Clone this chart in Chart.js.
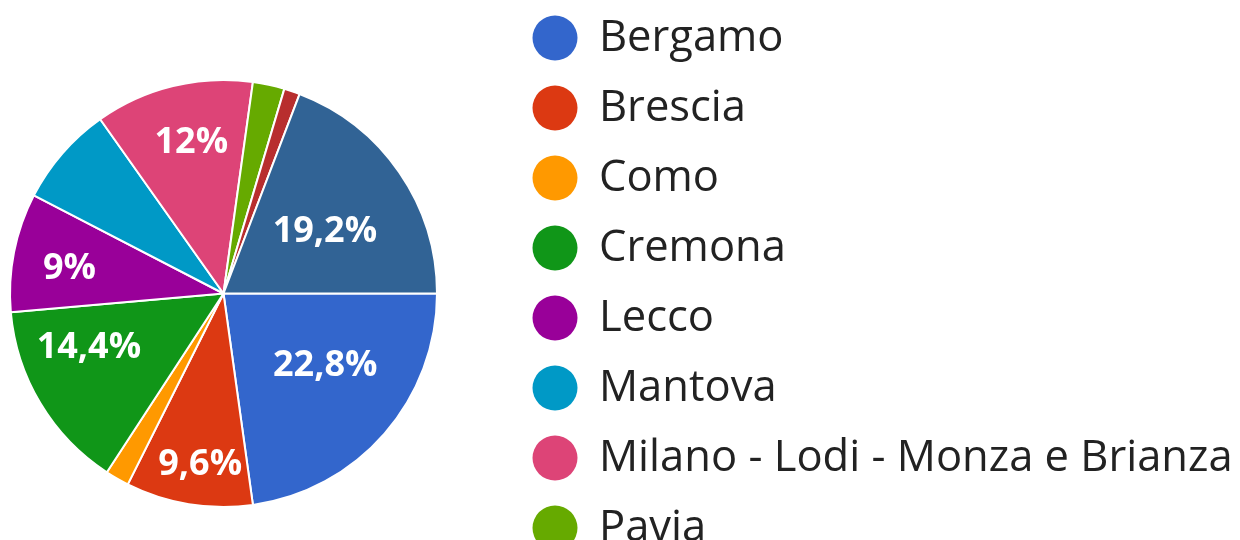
<!DOCTYPE html>
<html>
<head>
<meta charset="utf-8">
<script src="https://cdn.jsdelivr.net/npm/chart.js@4.4.0/dist/chart.umd.min.js"></script>
<style>
  html, body { margin: 0; padding: 0; background: #fff; overflow: hidden; }
  #pie { display: block; }
</style>
</head>
<body>
<canvas id="pie" width="1240" height="540"></canvas>
<script>
const provinces = ['Bergamo', 'Brescia', 'Como', 'Cremona', 'Lecco', 'Mantova',
  'Milano - Lodi - Monza e Brianza', 'Pavia', 'Sondrio', 'Varese'];
const shares = [22.8, 9.6, 1.8, 14.4, 9, 7.6, 12, 2.4, 1.2, 19.2];
const colors = ['#3366cc', '#dc3912', '#ff9900', '#109618', '#990099', '#0099c6',
  '#dd4477', '#66aa00', '#b82e2e', '#316395'];

// where each slice label sits: fraction of radius and small angle nudge (deg)
const labelPlace = {
  0: [0.585, -5.6], 1: [0.81, -1.6], 3: [0.68, 9], 4: [0.73, -2.2],
  6: [0.72, 1.6], 9: [0.555, 3.4]
};

const fmt = v => String(v).replace('.', ',') + '%';

const sliceLabels = {
  id: 'sliceLabels',
  afterDatasetsDraw(chart) {
    const ctx = chart.ctx;
    const arcs = chart.getDatasetMeta(0).data;
    ctx.save();
    ctx.font = 'bold 36px "Open Sans"';
    ctx.fillStyle = '#fff';
    ctx.textAlign = 'center';
    ctx.textBaseline = 'middle';
    arcs.forEach((arc, i) => {
      if (shares[i] < 8) return;
      const p = arc.getProps(['x', 'y', 'startAngle', 'endAngle', 'outerRadius'], true);
      const place = labelPlace[i] || [0.6, 0];
      const a = (p.startAngle + p.endAngle) / 2 + place[1] * Math.PI / 180;
      const r = p.outerRadius * place[0];
      ctx.fillText(fmt(shares[i]), p.x + Math.cos(a) * r, p.y + Math.sin(a) * r);
    });
    ctx.restore();
  }
};

const sideLegend = {
  id: 'sideLegend',
  afterDraw(chart) {
    const ctx = chart.ctx;
    ctx.save();
    ctx.font = '43.5px "Open Sans"';
    ctx.textBaseline = 'middle';
    ctx.textAlign = 'left';
    provinces.forEach((name, i) => {
      const y = 38 + i * 70;
      ctx.beginPath();
      ctx.arc(555, y, 22.5, 0, Math.PI * 2);
      ctx.fillStyle = colors[i];
      ctx.fill();
      ctx.fillStyle = '#222';
      ctx.fillText(name, 599, y + 1);
    });
    ctx.restore();
  }
};

document.fonts.load('43.5px "Open Sans"').then(() => document.fonts.load('bold 36px "Open Sans"')).finally(() => {
  new Chart(document.getElementById('pie'), {
    type: 'pie',
    data: {
      labels: provinces,
      datasets: [{
        data: shares,
        backgroundColor: colors,
        borderColor: '#fff',
        borderWidth: 2
      }]
    },
    options: {
      responsive: false,
      animation: false,
      rotation: 90,
      layout: { padding: { left: 9, top: 79, right: 802, bottom: 32 } },
      plugins: {
        legend: { display: false },
        tooltip: { enabled: false }
      }
    },
    plugins: [sliceLabels, sideLegend]
  });
});
</script>
</body>
</html>
